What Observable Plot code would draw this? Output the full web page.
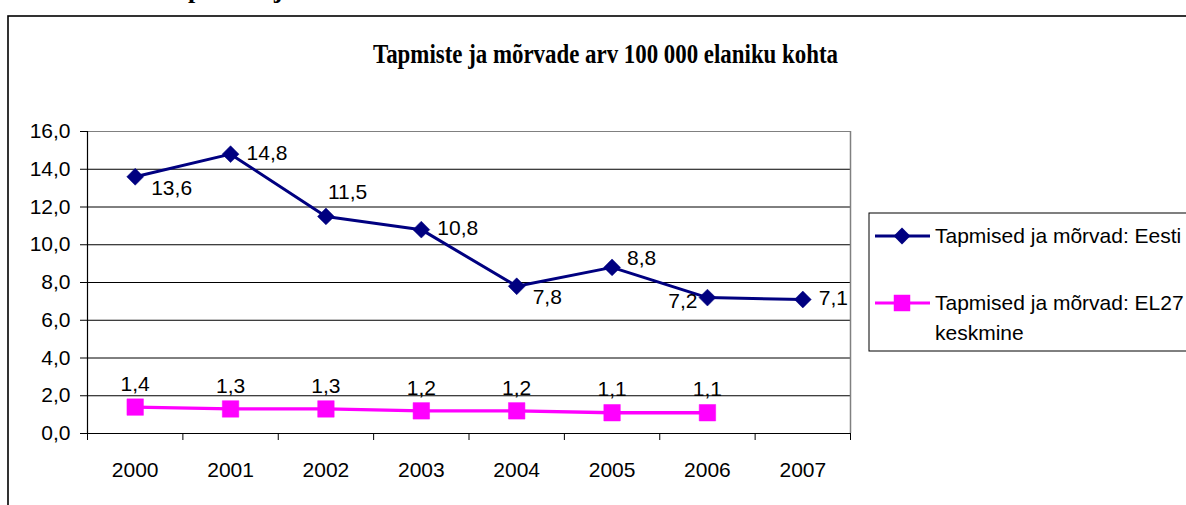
<!DOCTYPE html>
<html>
<head>
<meta charset="utf-8">
<script src="https://cdn.jsdelivr.net/npm/d3@7"></script>
<script src="https://cdn.jsdelivr.net/npm/@observablehq/plot@0.6"></script>
<style>
  html, body { margin: 0; padding: 0; background: #fff; overflow: hidden; }
  #chart svg { display: block; }
</style>
</head>
<body>
<div id="chart"></div>
<script>
// ---- data ----
const years = [2000, 2001, 2002, 2003, 2004, 2005, 2006, 2007];
const eestiValues = [13.6, 14.8, 11.5, 10.8, 7.8, 8.8, 7.2, 7.1];
const el27Years = [2000, 2001, 2002, 2003, 2004, 2005, 2006];
const el27Values = [1.4, 1.3, 1.3, 1.2, 1.2, 1.1, 1.1];
const yTicks = [0, 2, 4, 6, 8, 10, 12, 14, 16];
const seriesNames = ["Tapmised ja mõrvad: Eesti", "Tapmised ja mõrvad: EL27", "keskmine"];
const chartTitle = "Tapmiste ja mõrvade arv 100 000 elaniku kohta";
const headingFragment = "Tapmised ja mõrvad";

// ---- tables ----
const eesti = years.map((year, i) => ({year, value: eestiValues[i]}));
const el27 = el27Years.map((year, i) => ({year, value: el27Values[i]}));
const fmt = d => d.toFixed(1).replace(".", ",");
const boundaries = d3.range(years.length + 1).map(i => years[0] - 0.5 + i);

// label placement for the Eesti series (by year)
const place = {2000: "br", 2001: "r", 2002: "t", 2003: "r", 2004: "br", 2005: "ur", 2006: "l", 2007: "r"};
const placeOpts = {
  r:  {dx: 16, dy: -1, textAnchor: "start"},
  br: {dx: 16, dy: 11, textAnchor: "start"},
  ur: {dx: 15, dy: -9, textAnchor: "start"},
  t:  {dx: 2, dy: -24, textAnchor: "start"},
  l:  {dx: -10, dy: 4, textAnchor: "end"}
};

const NAVY = "#000080", MAGENTA = "#ff00ff";
const FONT = "'Liberation Sans', Arial, sans-serif";
const SERIF = "'Liberation Serif', 'Times New Roman', serif";

const labelMarks = Object.keys(placeOpts).map(k =>
  Plot.text(eesti.filter(d => place[d.year] === k), {
    x: "year", y: "value", text: d => fmt(d.value),
    fontSize: 21, fill: "#000", ...placeOpts[k]
  })
);

const svg = Plot.plot({
  width: 1186,
  height: 505,
  marginLeft: 87,
  marginRight: 336,
  marginTop: 131,
  marginBottom: 72,
  style: {fontFamily: FONT, fontSize: "21px", color: "#000", background: "#fff", overflow: "visible"},
  x: {domain: [years[0] - 0.5, years[years.length - 1] + 0.5], axis: null},
  y: {domain: [0, 16], axis: null},
  marks: [
    Plot.ruleY(yTicks.filter(t => t > 0 && t < 16), {stroke: "#000", strokeWidth: 1}),
    Plot.ruleY([16], {stroke: "#808080", strokeWidth: 1}),
    Plot.ruleX([boundaries[boundaries.length - 1]], {stroke: "#808080", strokeWidth: 1.5}),
    Plot.ruleX([boundaries[0]], {stroke: "#000", strokeWidth: 1.2}),
    Plot.ruleY([0], {stroke: "#000", strokeWidth: 1.2}),
    Plot.axisY(yTicks, {anchor: "left", tickFormat: fmt, tickSize: 7, tickPadding: 10, fontSize: 21, label: null}),
    Plot.axisX(boundaries, {anchor: "bottom", tickFormat: () => "", tickSize: 7, label: null}),
    Plot.axisX(years, {anchor: "bottom", tickFormat: d => String(d), tickSize: 0, tickPadding: 29, fontSize: 21, label: null}),
    Plot.line(eesti, {x: "year", y: "value", stroke: NAVY, strokeWidth: 3}),
    Plot.dot(eesti, {x: "year", y: "value", symbol: "diamond2", r: 7.6, fill: NAVY, stroke: NAVY, strokeWidth: 0.5}),
    Plot.line(el27, {x: "year", y: "value", stroke: MAGENTA, strokeWidth: 3.3}),
    Plot.dot(el27, {x: "year", y: "value", symbol: "square", r: 9.3, fill: MAGENTA, stroke: MAGENTA, strokeWidth: 0.5}),
    ...labelMarks,
    Plot.text(el27, {x: "year", y: "value", text: d => fmt(d.value), dy: -23, fontSize: 21, fill: "#000"})
  ]
});

// ---- decorations: outer frame, title, legend ----
const s = d3.select(svg);
s.insert("rect", ":first-child")
  .attr("x", 8).attr("y", 16).attr("width", 1300).attr("height", 700)
  .attr("fill", "#fff").attr("stroke", "#000").attr("stroke-width", 1.6);

s.append("text")
  .attr("x", 160).attr("y", -2)
  .attr("text-anchor", "start")
  .attr("font-family", SERIF)
  .attr("font-weight", "bold").attr("font-size", 26)
  .text(headingFragment);

s.append("text")
  .attr("x", 605.5).attr("y", 63)
  .attr("text-anchor", "middle")
  .attr("font-family", SERIF)
  .attr("font-weight", "bold").attr("font-size", 28)
  .attr("textLength", 465).attr("lengthAdjust", "spacingAndGlyphs")
  .text(chartTitle);

const lg = s.append("g").attr("font-family", FONT).attr("font-size", 21).attr("text-anchor", "start");
lg.append("rect").attr("x", 869).attr("y", 213).attr("width", 400).attr("height", 138)
  .attr("fill", "#fff").attr("stroke", "#000").attr("stroke-width", 1);
const legendItems = [
  {y: 236, color: NAVY, symbol: d3.symbolDiamond2, size: Math.PI * 7.6 * 7.6, lines: [seriesNames[0]]},
  {y: 303, color: MAGENTA, symbol: d3.symbolSquare, size: Math.PI * 9.3 * 9.3, lines: [seriesNames[1], seriesNames[2]]}
];
legendItems.forEach(it => {
  lg.append("line").attr("x1", 875).attr("x2", 930).attr("y1", it.y).attr("y2", it.y)
    .attr("stroke", it.color).attr("stroke-width", 3);
  lg.append("path").attr("transform", `translate(902,${it.y})`)
    .attr("d", d3.symbol(it.symbol, it.size)()).attr("fill", it.color);
  it.lines.forEach((t, j) => {
    lg.append("text").attr("x", 935).attr("y", it.y + j * 30).attr("dy", "0.35em")
      .attr("text-anchor", "start").attr("fill", "#000").text(t);
  });
});

document.getElementById("chart").appendChild(svg);
</script>
</body>
</html>
